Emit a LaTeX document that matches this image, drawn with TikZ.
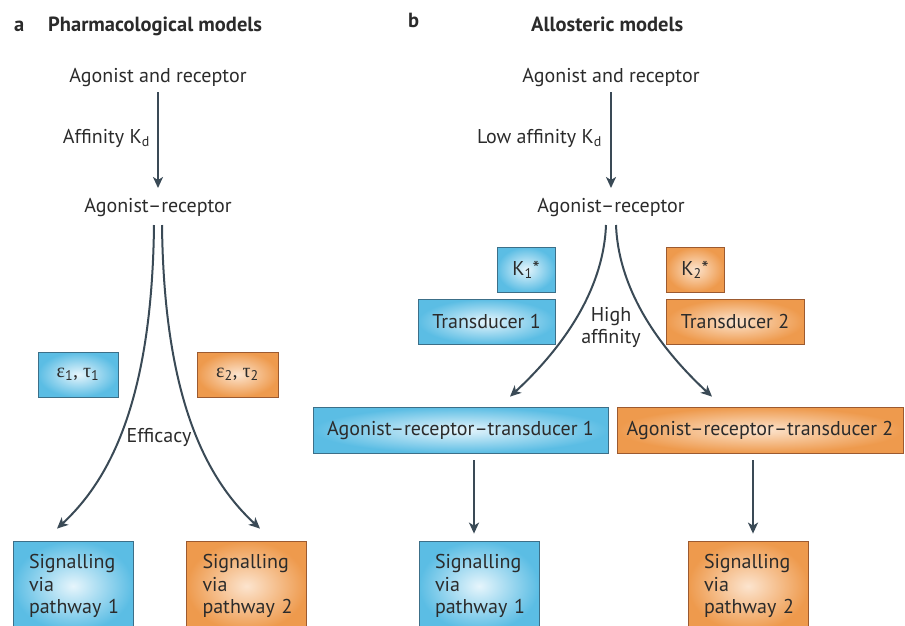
\documentclass[tikz,border=0pt]{standalone}
\usepackage{fontspec}
\setmainfont{PT Sans}
\newfontfamily\grk{Liberation Serif}
\usetikzlibrary{calc,arrows.meta}
\definecolor{txt}{HTML}{2B2B2B}
\definecolor{arrc}{HTML}{3A4A56}
\definecolor{bluein}{HTML}{E6F5FC}
\definecolor{blueout}{HTML}{5BBDE4}
\definecolor{bluebd}{HTML}{3C6F88}
\definecolor{orin}{HTML}{FCE4CE}
\definecolor{orout}{HTML}{EE9A4D}
\definecolor{orbd}{HTML}{9C5A30}
\begin{document}
\begin{tikzpicture}[x=1pt,y=-1pt,
  font=\fontsize{20}{22.5}\selectfont, text=txt,
  arr/.style={draw=arrc, line width=2pt, -{Stealth[length=11pt,width=10pt,inset=3pt]}},
  bbox/.style={draw=bluebd, line width=0.8pt, shade, inner color=bluein, outer color=blueout, inner sep=0pt},
  obox/.style={draw=orbd, line width=0.8pt, shade, inner color=orin, outer color=orout, inner sep=0pt},
  sig/.style={align=left, text width=88pt, inner xsep=16pt, minimum width=120pt, minimum height=90pt},
  lbl/.style={inner sep=0pt},
  ttl/.style={inner sep=0pt, font=\fontsize{20.5}{22}\selectfont\bfseries}]
\clip (0,0) rectangle (905,625);
% titles
\node[ttl, anchor=base west] (ta) at (14,31) {a};
\node[ttl, anchor=base west] (tat) at (48,31) {Pharmacological models};
\node[ttl, anchor=base west] (tb) at (408,27) {b};
\node[ttl, anchor=base west] (tbt) at (531,31) {Allosteric models};
% panel a
\node[lbl] (aara) at (158,78) {Agonist and receptor};
\node[lbl] (ara) at (158,208) {Agonist--receptor};
\node[lbl, anchor=east] (kda) at (150,138) {Affinity K\textsubscript{d}};
\node[bbox, minimum width=80pt, minimum height=45pt] (e1) at (78,374.5) {{\grk ε}\textsubscript{1}, {\grk τ}\textsubscript{1}};
\node[obox, minimum width=81pt, minimum height=45pt] (e2) at (237.5,374.5) {{\grk ε}\textsubscript{2}, {\grk τ}\textsubscript{2}};
\node[lbl] (eff) at (159,437) {Efficacy};
\node[bbox, sig] (sa1) at (73,586) {Signalling\\via\\pathway~1};
\node[obox, sig, minimum width=119pt] (sa2) at (246.5,586) {Signalling\\via\\pathway~2};
\draw[arr] ($(aara.center)+(0,14)$) -- ($(ara.center)+(0,-20)$);
\coordinate (tipa1) at ($(sa1.north)+(-16,-12)$);
\coordinate (tipa2) at ($(sa2.north)+(13.5,-12)$);
\draw[arr] ($(ara.center)+(-4,17)$) .. controls +(-2,175) and +(53,-49) .. (tipa1);
\draw[arr] ($(ara.center)+(4,17)$) .. controls +(2,175) and +(-53,-49) .. (tipa2);
% panel b
\node[lbl] (aarb) at (611,78) {Agonist and receptor};
\node[lbl] (arb) at (611,208) {Agonist--receptor};
\node[lbl, anchor=east] (kdb) at (602,138) {Low affinity K\textsubscript{d}};
\node[bbox, minimum width=58pt, minimum height=45pt] (k1) at (526,269.5) {K\textsubscript{1}*};
\node[bbox, minimum width=137pt, minimum height=45pt] (tr1) at (486.5,321.5) {Transducer 1};
\node[obox, minimum width=58pt, minimum height=45pt] (k2) at (695,269.5) {K\textsubscript{2}*};
\node[obox, minimum width=138pt, minimum height=45pt] (tr2) at (735,321.5) {Transducer 2};
\node[lbl, align=center, font=\fontsize{20}{22}\selectfont] (hi) at (611,327) {High\\affinity};
\node[bbox, minimum width=295pt, minimum height=46pt] (art1) at (460.5,430) {Agonist--receptor--transducer 1};
\node[obox, minimum width=286pt, minimum height=46pt] (art2) at (760,430) {Agonist--receptor--transducer 2};
\node[bbox, sig] (sb1) at (479,586) {Signalling\\via\\pathway~1};
\node[obox, sig] (sb2) at (748,586) {Signalling\\via\\pathway~2};
\draw[arr] ($(aarb.center)+(0,14)$) -- ($(arb.center)+(0,-20)$);
\coordinate (tipb1) at ($(art1.north)+(49.5,-10)$);
\coordinate (tipb2) at ($(art2.north)+(-48,-10)$);
\draw[arr] ($(arb.center)+(-5,17)$) .. controls +(-3,75) and +(40,-37) .. (tipb1);
\draw[arr] ($(arb.center)+(5,17)$) .. controls +(3,75) and +(-40,-37) .. (tipb2);
\draw[arr] ($(art1.south)+(13.5,7)$) -- ($(sb1.north)+(-5,-7)$);
\draw[arr] ($(art2.south)+(-7,7)$) -- ($(sb2.north)+(5,-7)$);
\end{tikzpicture}
\end{document}
